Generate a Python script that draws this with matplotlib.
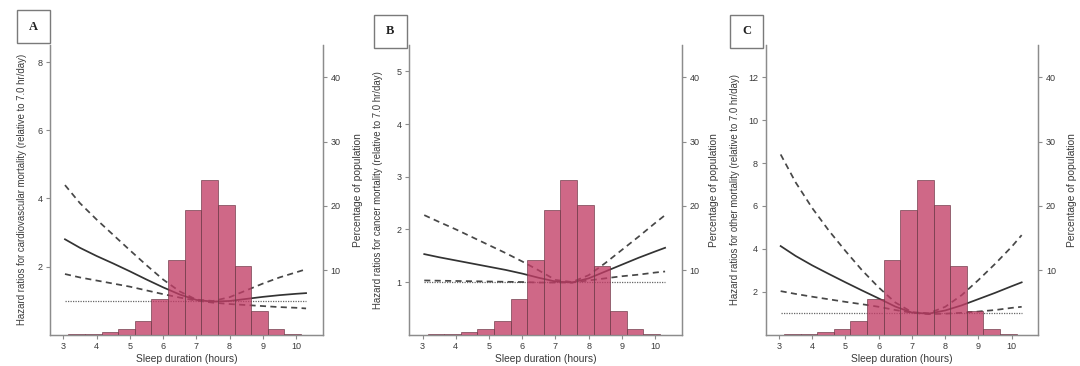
import matplotlib
matplotlib.use("Agg")
import matplotlib.pyplot as plt
from matplotlib.patches import Rectangle

# sleep duration grid the curves were read at (hours)
sleep_hours = [3.05, 3.5, 4.0, 4.5, 5.0, 5.5, 6.0, 6.5, 7.0, 7.5,
               8.0, 8.5, 9.0, 9.5, 10.0, 10.3]

# A: cardiovascular mortality
hr_cvd = [2.80, 2.55, 2.31, 2.09, 1.86, 1.62, 1.39, 1.18, 1.02, 0.97,
          0.99, 1.05, 1.11, 1.16, 1.20, 1.22]
upper_cvd = [4.39, 3.86, 3.38, 2.93, 2.48, 2.04, 1.62, 1.27, 1.03, 0.99,
             1.10, 1.30, 1.50, 1.68, 1.83, 1.92]
lower_cvd = [1.78, 1.68, 1.59, 1.50, 1.41, 1.30, 1.19, 1.09, 1.00, 0.94,
             0.90, 0.87, 0.84, 0.81, 0.79, 0.77]

# B: cancer mortality
hr_cancer = [1.53, 1.47, 1.41, 1.35, 1.29, 1.23, 1.16, 1.08, 1.01, 0.99,
             1.07, 1.20, 1.33, 1.46, 1.58, 1.65]
upper_cancer = [2.27, 2.14, 2.00, 1.85, 1.70, 1.55, 1.39, 1.22, 1.04, 1.00,
                1.13, 1.36, 1.61, 1.86, 2.12, 2.27]
lower_cancer = [1.03, 1.025, 1.02, 1.015, 1.01, 1.005, 1.00, 0.99, 0.99, 0.99,
                1.03, 1.07, 1.11, 1.14, 1.18, 1.20]

# C: other mortality
hr_other = [4.13, 3.67, 3.23, 2.83, 2.44, 2.06, 1.69, 1.31, 1.03, 0.98,
            1.13, 1.37, 1.66, 1.95, 2.26, 2.44]
upper_other = [8.40, 7.10, 5.90, 4.85, 3.90, 3.00, 2.20, 1.50, 1.05, 1.00,
               1.30, 1.85, 2.55, 3.30, 4.10, 4.64]
lower_other = [2.03, 1.90, 1.77, 1.65, 1.53, 1.42, 1.30, 1.15, 1.02, 0.96,
               0.98, 1.02, 1.08, 1.15, 1.25, 1.30]

# population histogram (same in all panels)
bin_start = [3.15, 3.65, 4.15, 4.65, 5.15, 5.65, 6.15, 6.65, 7.15, 7.65,
             8.15, 8.65, 9.15, 9.65]
pct_population = [0.05, 0.1, 0.35, 0.85, 2.1, 5.5, 11.6, 19.4, 24.1, 20.2,
                  10.7, 3.7, 0.9, 0.15]
bin_width = 0.5

x_ticks = [3, 4, 5, 6, 7, 8, 9, 10]
pct_ticks = [10, 20, 30, 40]

panels = [
    ("A", "Hazard ratios for cardiovascular mortality (relative to 7.0 hr/day)",
     hr_cvd, upper_cvd, lower_cvd, 8.5, [2, 4, 6, 8]),
    ("B", "Hazard ratios for cancer mortality (relative to 7.0 hr/day)",
     hr_cancer, upper_cancer, lower_cancer, 5.5, [1, 2, 3, 4, 5]),
    ("C", "Hazard ratios for other mortality (relative to 7.0 hr/day)",
     hr_other, upper_other, lower_other, 13.5, [2, 4, 6, 8, 10, 12]),
]

# axes placement in figure pixels (left, right)
W, H = 1080, 366
ax_x = [(50, 322.7), (409.3, 681.7), (765.7, 1038.3)]
ax_bottom, ax_top = 334.7, 45
box_xy = [(17, 10), (374, 15), (730, 15)]
box_size = 33
ylab_x = [-0.086, -0.097, -0.094]
rlab_x = [1.111, 1.100, 1.105]

spine_col = "#8c8c8c"
text_col = "#3a3a3a"
bar_col = "#c23d66"

plt.rcParams["font.family"] = ["Liberation Sans", "DejaVu Sans"]

fig = plt.figure(figsize=(W / 100., H / 100.), dpi=100)

for i, (tag, ylab, hr, up, lo, ytop, yticks) in enumerate(panels):
    x0, x1 = ax_x[i]
    ax = fig.add_axes([x0 / W, 1 - ax_bottom / H,
                       (x1 - x0) / W, (ax_bottom - ax_top) / H])
    ax2 = ax.twinx()

    ax.hlines(1.0, sleep_hours[0], sleep_hours[-1], colors="#666666",
              linestyles=(0, (1, 1)), linewidth=0.9)
    ax.plot(sleep_hours, up, color="#474747", linestyle=(0, (3.5, 2.5)),
            linewidth=1.25)
    ax.plot(sleep_hours, lo, color="#474747", linestyle=(0, (3.5, 2.5)),
            linewidth=1.25)
    ax.plot(sleep_hours, hr, color="#333333", linewidth=1.25)

    ax2.bar(bin_start, pct_population, width=bin_width, align="edge",
            color=bar_col, alpha=0.78, edgecolor="#6e3a48", linewidth=0.6)

    ax.set_xlim(2.6, 10.8)
    ax.set_ylim(0, ytop)
    ax2.set_ylim(0, 45)
    ax.set_xticks(x_ticks)
    ax.set_yticks(yticks)
    ax2.set_yticks(pct_ticks)

    for a in (ax, ax2):
        a.spines["top"].set_visible(False)
        for s in ("left", "right", "bottom"):
            a.spines[s].set_color(spine_col)
            a.spines[s].set_linewidth(0.9)
        a.tick_params(colors=spine_col, labelcolor=text_col, labelsize=6.5,
                      length=3, width=0.8, pad=2.5)

    ax.set_xlabel("Sleep duration (hours)", fontsize=7.4, color=text_col,
                  labelpad=2)
    ax.set_ylabel(ylab, fontsize=6.9, color=text_col)
    ax.yaxis.set_label_coords(ylab_x[i], 0.5)
    ax2.set_ylabel("Percentage of population", fontsize=7.4, color=text_col,
                   rotation=90)
    ax2.yaxis.set_label_coords(rlab_x[i], 0.5)

    bx, by = box_xy[i]
    fig.patches.append(Rectangle((bx / W, 1 - (by + box_size) / H),
                                 box_size / W, box_size / H,
                                 transform=fig.transFigure, fill=False,
                                 edgecolor="#7a7a7a", linewidth=1.0))
    fig.text((bx + box_size / 2.) / W, 1 - (by + box_size / 2.) / H, tag,
             ha="center", va="center", fontsize=9, fontweight="bold",
             family="Liberation Serif", color="#222222")

fig.savefig("out.png", dpi=100)
plt.close(fig)
